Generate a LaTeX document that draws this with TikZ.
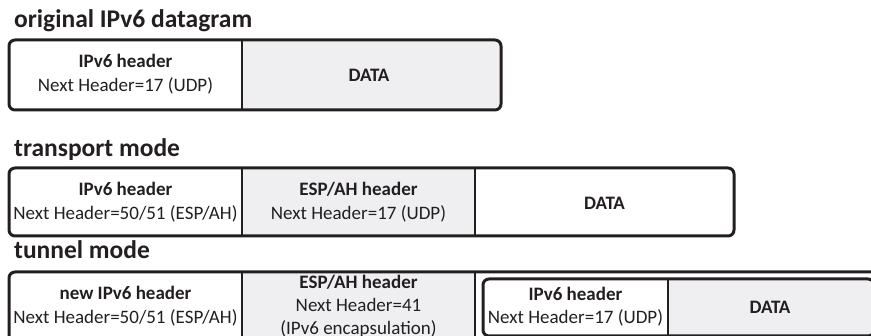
\documentclass[tikz,border=0pt]{standalone}
\usepackage{fontspec}
\setmainfont{Carlito}
\definecolor{ink}{RGB}{35,31,32}
\definecolor{cellgray}{RGB}{239,239,241}
\tikzset{
  frame/.style={draw=ink, line width=3pt, rounded corners=6pt},
  divider/.style={draw=ink, line width=2.6pt},
  title/.style={anchor=base west, inner sep=0pt, text=ink,
    font=\fontsize{25.5}{30}\selectfont\bfseries},
  label/.style={align=center, inner sep=0pt, text=ink,
    font=\fontsize{19}{23.5}\selectfont},
}
\newcommand{\hd}[1]{\textbf{#1}}
\begin{document}
\begin{tikzpicture}[x=1pt, y=-1pt]
\useasboundingbox (0,0) rectangle (871,336);
\clip (0,0) rectangle (871,336);

% ---------- original IPv6 datagram ----------
\node[title] (t1) at (14,28) {original IPv6 datagram};
\fill[white, rounded corners=6pt] (9,40) rectangle (501,110);
\begin{scope}
  \clip[rounded corners=6pt] (9,40) rectangle (501,110);
  \fill[cellgray] (242,40) rectangle (501,110);
\end{scope}
\draw[frame] (9,40) rectangle (501,110);
\draw[divider] (242,40) -- (242,110);
\node[label] (o-hdr) at (125.5,74) {\hd{IPv6 header}\\Next Header=17 (UDP)};
\node[label] (o-data) at (369,75) {\hd{DATA}};

% ---------- transport mode ----------
\node[title] (t2) at (14,157) {transport mode};
\fill[white, rounded corners=6pt] (9,168) rectangle (734,236);
\fill[cellgray] (242,168) rectangle (475,236);
\draw[frame] (9,168) rectangle (734,236);
\draw[divider] (242,168) -- (242,236);
\draw[divider] (475,168) -- (475,236);
\node[label] (tr-hdr) at (125.5,202) {\hd{IPv6 header}\\Next Header=50/51 (ESP/AH)};
\node[label] (tr-esp) at (358.5,202) {\hd{ESP/AH header}\\Next Header=17 (UDP)};
\node[label] (tr-data) at (604.5,203) {\hd{DATA}};

% ---------- tunnel mode ----------
\node[title] (t3) at (14,259) {tunnel mode};
\fill[white, rounded corners=6pt] (9,272) rectangle (910,380);
\fill[cellgray] (242,272) rectangle (475,380);
\draw[frame] (9,272) rectangle (910,380);
\draw[divider] (242,272) -- (242,380);
\draw[divider] (475,272) -- (475,380);
\node[label] (tu-hdr) at (125.5,306) {\hd{new IPv6 header}\\Next Header=50/51 (ESP/AH)};
\node[label, font=\fontsize{19}{23}\selectfont] (tu-esp) at (358.5,306.5)
  {\hd{ESP/AH header}\\Next Header=41\\(IPv6 encapsulation)};

% inner (encapsulated) datagram
\fill[white, rounded corners=6pt] (483,279) rectangle (874,336);
\begin{scope}
  \clip[rounded corners=6pt] (483,279) rectangle (874,336);
  \fill[cellgray] (668,279) rectangle (874,336);
\end{scope}
\draw[frame] (483,279) rectangle (874,336);
\draw[divider] (668,279) -- (668,336);
\node[label] (in-hdr) at (575.5,306.5) {\hd{IPv6 header}\\Next Header=17 (UDP)};
\node[label] (in-data) at (770,307) {\hd{DATA}};
\end{tikzpicture}
\end{document}
